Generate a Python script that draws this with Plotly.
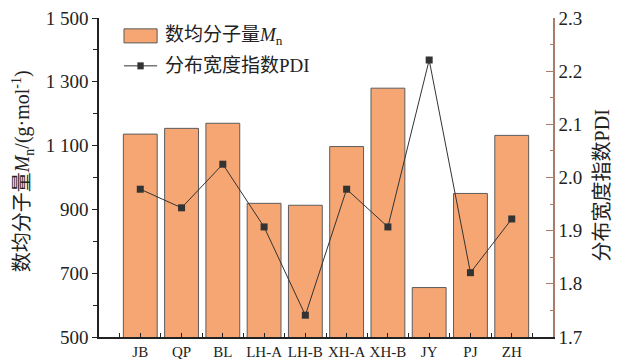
import plotly.graph_objects as go

# Sample codes and measured values
samples = ["JB", "QP", "BL", "LH-A", "LH-B", "XH-A", "XH-B", "JY", "PJ", "ZH"]
mn_values = [1136, 1154, 1170, 919, 913, 1097, 1280, 655, 950, 1132]
pdi_values = [1.978, 1.943, 2.025, 1.907, 1.741, 1.978, 1.907, 2.221, 1.821, 1.922]

mn_ticks = [500, 700, 900, 1100, 1300, 1500]
mn_tick_labels = ["500", "700", "900", "1 100", "1 300", "1 500"]
pdi_ticks = [1.7, 1.8, 1.9, 2.0, 2.1, 2.2, 2.3]
pdi_tick_labels = ["1.7", "1.8", "1.9", "2.0", "2.1", "2.2", "2.3"]

FONT = "Liberation Serif, Times New Roman, Noto Sans CJK SC, serif"
INK = "#222222"
BAR_FILL = "#F5A673"
BAR_EDGE = "#5c5c5c"
LINE_INK = "#333333"
RIGHT_AXIS = "#A87E6A"

pos = list(range(len(samples)))
half_pos = [p - 0.5 for p in pos] + [pos[-1] + 0.5]

fig = go.Figure()
fig.add_bar(
    x=pos, y=mn_values, width=0.82,
    marker=dict(color=BAR_FILL, line=dict(color=BAR_EDGE, width=1)),
    showlegend=False,
)
fig.add_scatter(
    x=pos, y=pdi_values, yaxis="y2", mode="lines+markers",
    line=dict(color=LINE_INK, width=1),
    marker=dict(symbol="square", size=7, color=LINE_INK),
    showlegend=False,
)

fig.update_layout(
    width=618, height=359,
    margin=dict(l=99, r=65, t=18, b=22, autoexpand=False),
    paper_bgcolor="white", plot_bgcolor="white",
    font=dict(family=FONT, color=INK, size=19),
    xaxis=dict(
        range=[-1, 10], tickmode="array", tickvals=pos, ticktext=samples,
        ticks="inside", ticklen=4, tickwidth=1, tickcolor=INK,
        minor=dict(tickmode="array", tickvals=half_pos, ticks="inside",
                   ticklen=4, tickwidth=1, tickcolor=INK),
        showline=True, linecolor=INK, linewidth=1.5,
        showgrid=False, zeroline=False, automargin=False,
        tickfont=dict(family=FONT, size=15, color=INK),
    ),
    yaxis=dict(
        range=[500, 1500], tickmode="array", tickvals=mn_ticks,
        ticktext=mn_tick_labels,
        ticks="outside", ticklen=5, tickwidth=1, tickcolor=INK,
        minor=dict(dtick=100, tick0=500, ticks="outside", ticklen=4,
                   tickwidth=1, tickcolor=INK),
        showline=True, linecolor=INK, linewidth=1.5,
        showgrid=False, zeroline=False, automargin=False,
        tickfont=dict(family=FONT, size=19, color=INK),
    ),
    yaxis2=dict(
        overlaying="y", side="right",
        range=[1.7, 2.3], tickmode="array", tickvals=pdi_ticks,
        ticktext=pdi_tick_labels,
        ticks="inside", ticklen=7, tickwidth=1, tickcolor=RIGHT_AXIS,
        minor=dict(dtick=0.05, tick0=1.7, ticks="inside", ticklen=3,
                   tickwidth=1, tickcolor=RIGHT_AXIS),
        showline=True, linecolor=RIGHT_AXIS, linewidth=1.5,
        showgrid=False, zeroline=False, automargin=False,
        tickfont=dict(family=FONT, size=19, color=INK),
    ),
)

# Axis titles
fig.add_annotation(
    text="数均分子量<i>M</i><sub>n</sub>/(g·mol<sup>-1</sup>)",
    xref="paper", yref="paper", x=-0.167, y=0.52, textangle=-90,
    showarrow=False, xanchor="center", yanchor="middle",
    font=dict(family=FONT, size=20, color=INK),
)
fig.add_annotation(
    text="分布宽度指数PDI",
    xref="paper", yref="paper", x=1.11, y=0.475, textangle=-90,
    showarrow=False, xanchor="center", yanchor="middle",
    font=dict(family=FONT, size=20, color=INK),
)

# Legend
fig.add_shape(type="rect", xref="paper", yref="paper",
              x0=0.055, x1=0.128, y0=0.922, y1=0.966,
              fillcolor=BAR_FILL, line=dict(color=BAR_EDGE, width=1))
fig.add_shape(type="line", xref="paper", yref="paper",
              x0=0.055, x1=0.128, y0=0.85, y1=0.85,
              line=dict(color=LINE_INK, width=1))
fig.add_shape(type="rect", xref="paper", yref="paper",
              x0=0.0845, x1=0.0985, y0=0.839, y1=0.861,
              fillcolor=LINE_INK, line=dict(color=LINE_INK, width=0))
fig.add_annotation(
    text="数均分子量<i>M</i><sub>n</sub>",
    xref="paper", yref="paper", x=0.141, y=0.944,
    showarrow=False, xanchor="left", yanchor="middle",
    font=dict(family=FONT, size=19, color=INK),
)
fig.add_annotation(
    text="分布宽度指数PDI",
    xref="paper", yref="paper", x=0.141, y=0.85,
    showarrow=False, xanchor="left", yanchor="middle",
    font=dict(family=FONT, size=19, color=INK),
)

fig.write_html("out.html")
